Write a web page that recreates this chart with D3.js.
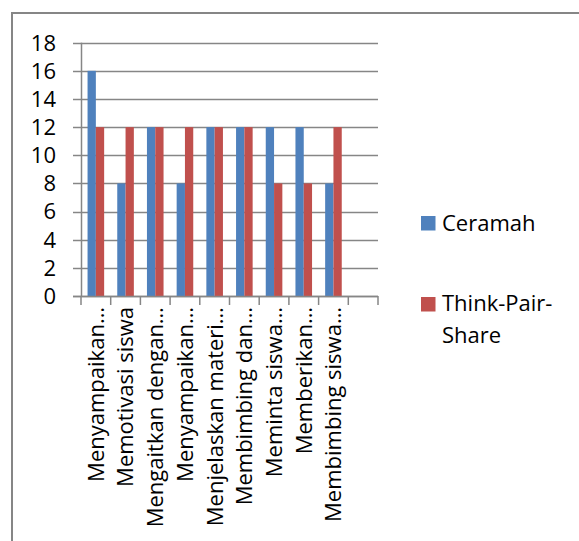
<!DOCTYPE html>
<html lang="id">
  <head>
    <meta charset="UTF-8" />
    <title>Ceramah vs Think-Pair-Share</title>
    <script src="https://d3js.org/d3.v7.min.js"></script>
    <style>
      body { margin: 0; background: #fff; }
      svg { display: block; font-family: "Open Sans", sans-serif; }
    </style>
  </head>
  <body>
    <svg></svg>
    <script>
      // data (10th slot is empty in the original)
      let categories = [
        "Menyampaikan…",
        "Memotivasi siswa",
        "Mengaitkan dengan…",
        "Menyampaikan…",
        "Menjelaskan materi…",
        "Membimbing dan…",
        "Meminta siswa…",
        "Memberikan…",
        "Membimbing siswa…",
        ""
      ];
      let seriesNames = ["Ceramah", "Think-Pair-Share"];
      let ceramah = [16, 8, 12, 8, 12, 12, 12, 12, 8];
      let tps = [12, 12, 12, 12, 12, 12, 8, 8, 12];
      let yTicks = [0, 2, 4, 6, 8, 10, 12, 14, 16, 18];
      let colors = ["#4f81bd", "#c0504d"];

      let width = 579,
        height = 541;
      let fontSize = 22;
      let gridColor = "#868686";

      let svg = d3.select("svg").attr("width", width).attr("height", height);

      // outer chart frame (runs off the right and bottom edges)
      svg
        .append("rect")
        .attr("x", 12)
        .attr("y", 13)
        .attr("width", width + 20)
        .attr("height", height + 20)
        .attr("fill", "none")
        .attr("stroke", gridColor)
        .attr("stroke-width", 2);

      let x0 = d3.scaleBand().domain(d3.range(categories.length)).range([81, 378]);
      let x1 = d3
        .scaleBand()
        .domain(seriesNames)
        .range([0, x0.bandwidth()])
        .paddingInner(0)
        .paddingOuter(0.79);
      let y = d3.scaleLinear().domain([0, 18]).range([296, 42.7]);

      // gridlines + left ticks
      svg
        .append("g")
        .selectAll("line")
        .data(yTicks)
        .enter()
        .append("line")
        .attr("x1", 73)
        .attr("x2", 378)
        .attr("y1", (d) => Math.round(y(d)) + 0.5)
        .attr("y2", (d) => Math.round(y(d)) + 0.5)
        .attr("stroke", gridColor)
        .attr("stroke-width", 1.5);

      // y axis line
      svg
        .append("line")
        .attr("x1", 81.5)
        .attr("x2", 81.5)
        .attr("y1", y(18))
        .attr("y2", y(0))
        .attr("stroke", gridColor)
        .attr("stroke-width", 1.5);

      // y tick labels
      svg
        .append("g")
        .selectAll("text")
        .data(yTicks)
        .enter()
        .append("text")
        .attr("x", 56)
        .attr("y", (d) => y(d))
        .attr("dy", "0.36em")
        .attr("text-anchor", "end")
        .attr("font-size", fontSize)
        .attr("fill", "#000")
        .text((d) => d);

      // bars
      let rows = ceramah.map((v, i) => [
        { s: seriesNames[0], v: v },
        { s: seriesNames[1], v: tps[i] }
      ]);
      svg
        .append("g")
        .selectAll("g")
        .data(rows)
        .enter()
        .append("g")
        .attr("transform", (d, i) => "translate(" + x0(i) + ",0)")
        .selectAll("rect")
        .data((d) => d)
        .enter()
        .append("rect")
        .attr("x", (d) => x1(d.s))
        .attr("width", x1.bandwidth())
        .attr("y", (d) => y(d.v))
        .attr("height", (d) => y(0) - y(d.v))
        .attr("fill", (d, i) => colors[i]);

      // x axis line and ticks at category boundaries
      svg
        .append("line")
        .attr("x1", 73)
        .attr("x2", 378)
        .attr("y1", Math.round(y(0)) + 0.5)
        .attr("y2", Math.round(y(0)) + 0.5)
        .attr("stroke", gridColor)
        .attr("stroke-width", 1.5);
      let bounds = d3.range(categories.length + 1).map((i) =>
        i < categories.length ? x0(i) : x0.range()[1]
      );
      svg
        .append("g")
        .selectAll("line")
        .data(bounds)
        .enter()
        .append("line")
        .attr("x1", (d) => d)
        .attr("x2", (d) => d)
        .attr("y1", y(0))
        .attr("y2", y(0) + 9)
        .attr("stroke", gridColor)
        .attr("stroke-width", 1.5);

      // rotated category labels
      svg
        .append("g")
        .selectAll("text")
        .data(categories)
        .enter()
        .append("text")
        .attr(
          "transform",
          (d, i) =>
            "translate(" + (x0(i) + x0.bandwidth() / 2) + "," + 307 + ") rotate(-90)"
        )
        .attr("dy", "0.36em")
        .attr("text-anchor", "end")
        .attr("font-size", fontSize)
        .attr("fill", "#000")
        .text((d) => d);

      // legend
      let legend = svg.append("g");
      let legendY = [216, 297];
      legend
        .selectAll("rect")
        .data(seriesNames)
        .enter()
        .append("rect")
        .attr("x", 421)
        .attr("y", (d, i) => legendY[i])
        .attr("width", 14.5)
        .attr("height", 14.5)
        .attr("fill", (d, i) => colors[i]);
      legend
        .append("text")
        .attr("x", 442)
        .attr("y", 230.5)
        .attr("font-size", fontSize)
        .text("Ceramah");
      legend
        .append("text")
        .attr("x", 442)
        .attr("y", 310.5)
        .attr("font-size", fontSize)
        .selectAll("tspan")
        .data(["Think-Pair-", "Share"])
        .enter()
        .append("tspan")
        .attr("x", 442)
        .attr("dy", (d, i) => (i == 0 ? 0 : 32.5))
        .text((d) => d);
    </script>
  </body>
</html>
